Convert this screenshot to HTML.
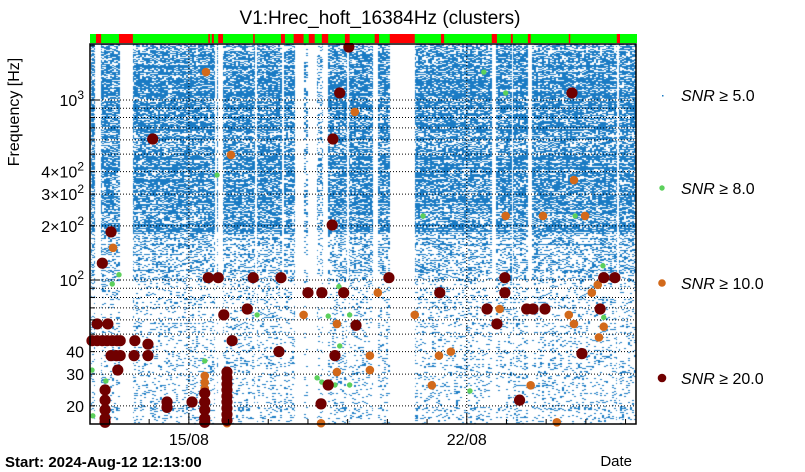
<!DOCTYPE html>
<html><head><meta charset="utf-8">
<style>
html,body{margin:0;padding:0;background:#fff;}
body{width:805px;height:472px;position:relative;overflow:hidden;font-family:"Liberation Sans",sans-serif;}
#c{position:absolute;left:0;top:0;}
svg{position:absolute;left:0;top:0;}
</style></head>
<body>
<canvas id="c" width="805" height="472"></canvas>
<svg id="s" width="805" height="472" font-family="Liberation Sans, sans-serif">
<text x="380" y="24" text-anchor="middle" font-size="19">V1:Hrec_hoft_16384Hz (clusters)</text>
<text transform="translate(19,112) rotate(-90)" text-anchor="middle" font-size="16">Frequency [Hz]</text>
<text x="5" y="467" font-size="15" font-weight="bold">Start: 2024-Aug-12 12:13:00</text>
<text x="632" y="466" text-anchor="end" font-size="15">Date</text>
<g id="grid"></g><g id="marks"></g><g id="axes"></g>
<g font-size="16">
 <rect x="662" y="95" width="1.5" height="1.5" fill="#1a7bc4"/>
 <text x="681" y="101"><tspan font-style="italic">SNR</tspan> ≥ 5.0</text>
 <circle cx="662" cy="188" r="2.7" fill="#5cd05c"/>
 <text x="681" y="194"><tspan font-style="italic">SNR</tspan> ≥ 8.0</text>
 <circle cx="662" cy="283" r="3.8" fill="#d2691a"/>
 <text x="681" y="289"><tspan font-style="italic">SNR</tspan> ≥ 10.0</text>
 <circle cx="662" cy="378" r="4.3" fill="#700000"/>
 <text x="681" y="384"><tspan font-style="italic">SNR</tspan> ≥ 20.0</text>
</g>
</svg>
<script>
// ---- data (x in days since start 2024-Aug-12 12:13, y in Hz) ----
const snr8Days=[6.27,0.73,0.56,4.21,6.0,6.54,6.29,2.89,0.05,0.40,0.07,5.72,5.84,6.17,6.54,3.2,9.92,10.47,8.39,12.22,12.92,12.94,9.57];
const snr8Hz=[92,107,95,64,63,64,43,35.5,31.6,27.5,17.6,28.6,27.1,26.1,26.1,383,1430,1094,227,227,120,62,24.2];
const snr10Days=[2.92,3.55,6.67,0.58,7.25,8.18,10.32,12.06,12.19,12.94,12.82,12.79,12.64,7.05,7.05,8.79,9.09,8.61,11.1,11.76,12.19,10.47,11.41,12.47,5.38,6.22,6.22,2.89,2.89,2.89,2.89,3.45,5.82];
const snr10Hz=[1430,495,858,151,85,64,69,64,57,55,48,94,85,38,31.6,38,40,26,26,16.2,359,227,227,227,64,57,30.8,29.3,27,25,23.8,16,16];
const snr20Days=[6.52,6.29,1.58,6.12,6.1,12.14,0.31,0.53,2.98,3.23,4.11,4.81,5.49,5.84,6.39,3.37,3.96,6.7,
0.05,0.18,0.31,0.43,0.56,0.68,0.76,0.18,0.45,0.53,0.66,0.76,0.7,1.13,1.11,1.46,1.46,3.58,4.76,6.17,6.0,5.82,
0.38,0.38,0.38,0.38,0.38,1.94,1.94,2.57,2.89,2.89,2.89,2.89,2.89,
3.45,3.45,3.45,3.45,3.45,3.45,3.45,3.45,3.45,
7.53,10.45,10.45,8.81,10.0,10.25,11.0,11.16,11.46,12.39,10.82,12.94,13.22,12.85];
const snr20Hz=[1969,1094,607,607,202,1094,124,185,103,103,103,103,85,85,85,64,69,56,
46,46,46,46,46,46,46,57,57,38,38,38,31.6,46,38,44,38,46,40,38,26.1,20.5,
24.5,21.5,19,17,16.2,21,19.6,21,23.5,21,19,17,16.2,
30.8,28.6,26.4,24.5,22.6,21,19.4,17.9,16.6,
103,103,85,85,69,57,69,69,69,39,21.5,103,103,69];
const badStart=[0.15,0.73,2.98,3.07,3.23,4.11,4.81,5.13,5.51,5.84,6.42,7.17,7.55,8.84,10.12,10.6,11.03,12.06,13.27];
const badEnd=[0.28,1.08,3.02,3.12,3.35,4.15,4.91,5.38,5.66,6.0,6.54,7.28,8.18,8.92,10.25,10.65,11.1,12.09,13.35];
const xTickDays=[2.49,9.49];
const xTickLabels=["15/08","22/08"];
const yLabelHz=[1000,400,300,200,100,40,30,20];
const yLabelText=["10^3","4×10^2","3×10^2","2×10^2","10^2","40","30","20"];
// ---- axes ----
const L=90,R=636,T=44,B=424;
const xs=d=>L+d*39.7;
const ys=f=>280-(Math.log10(f)-2)*180;
const NS="http://www.w3.org/2000/svg";
function mk(tag,attrs,parent){const e=document.createElementNS(NS,tag);for(const k in attrs)e.setAttribute(k,attrs[k]);parent.appendChild(e);return e;}
const grid=document.getElementById('grid'),marks=document.getElementById('marks'),axes=document.getElementById('axes');

// texture for SNR>=5 (dense background)
(function(){
 const cv=document.getElementById('c'),ctx=cv.getContext('2d');
 const img=ctx.createImageData(R-L,B-T);
 const gaps=[[95,101],[120,133],[215,217],[218,223],[255,257],[282,284],[295,304],[308,317],[323,328],[347,349],[373,378],[390,415],[492,496],[512,513],[528,532],[617,619]];
 function h(a,b){let n=(a*374761393+b*668265263)|0;n=(n^(n>>>13))*1274126177|0;n=n^(n>>>16);return (n>>>0)/4294967296;}
 for(let y=T;y<B;y++){
  let base=y<232?0.65:(y<282?0.32:0.12);
  const rf=h(y,7);
  let p=base*(0.65+0.7*rf);
  if(rf>0.88)p=Math.min(0.97,p*1.7);
  for(let x=L+1;x<R;x++){
   let g=false;for(const q of gaps){if(x>=q[0]&&x<q[1]){g=true;break;}}
   if(g)continue;
   let pp=p;
   if((x>=215&&x<217)||(x>=304&&x<308)||(x>=317&&x<323))pp*=0.5;
   if(h(x>>1,y*3+1)<pp){const i=((y-T)*(R-L)+(x-L))*4;img.data[i]=26;img.data[i+1]=123;img.data[i+2]=196;img.data[i+3]=255;}
  }
 }
 ctx.putImageData(img,L,T);
})();

// grid
const minor=[];for(let d=10;d<=1000;d*=10)for(let m=1;m<10;m++){const f=d*m;if(f>=20&&f<=1000)minor.push(f);}
minor.forEach(f=>{const y=ys(f);
 const l=mk('line',{x1:L,x2:R,y1:y,y2:y,stroke:'#000','stroke-width':1,'stroke-dasharray':'1,2'},grid);
 
 
});
xTickDays.forEach(d=>{const x=xs(d);
 const l=mk('line',{x1:x,x2:x,y1:T,y2:B,stroke:'#000','stroke-width':1,'stroke-dasharray':'1,2'},grid);
 
 
});
// marks
function dots(dd,hz,r,col,name){for(let i=0;i<dd.length;i++){
 const c=mk('circle',{cx:xs(dd[i]),cy:ys(hz[i]),r:r,fill:col},marks);
 
 
}}
dots(snr8Days,snr8Hz,2.7,'#5cd05c','snr8-point');
dots(snr10Days,snr10Hz,4.3,'#d2691a','snr10-point');
dots(snr20Days,snr20Hz,5.6,'#700000','snr20-point');
// quality bar
const bg=mk('rect',{x:L,y:34,width:R-L+1,height:9,fill:'#00ff00'},axes);


for(let i=0;i<badStart.length;i++){
 const r=mk('rect',{x:xs(badStart[i]),y:34,width:Math.max(1.5,xs(badEnd[i])-xs(badStart[i])),height:9,fill:'#ff0000'},axes);
 
 
}
// frame
const fr=mk('rect',{x:L,y:T,width:R-L,height:B-T,fill:'none',stroke:'#000','stroke-width':1.5},axes);


minor.concat([2000]).forEach(f=>{const y=ys(f);const big=(f===100||f===1000);
 const t=mk('line',{x1:L,x2:L+(big?10:5),y1:y,y2:y,stroke:'#000','stroke-width':1},axes);
 
 
});
yLabelHz.forEach((f,i)=>{const y=ys(f)+6;const s=yLabelText[i];
 const t=mk('text',{x:84,y:y,'text-anchor':'end','font-size':16},axes);
 
 
 if(s.includes('^')){const [b,e]=s.split('^');
  const a=document.createElementNS(NS,'tspan');a.textContent=b;t.appendChild(a);
  const sp=document.createElementNS(NS,'tspan');sp.textContent=e;sp.setAttribute('dy','-7');sp.setAttribute('font-size','12');t.appendChild(sp);
 } else t.textContent=s;
});
xTickDays.forEach((d,i)=>{const x=xs(d);
 const t=mk('line',{x1:x,x2:x,y1:B,y2:B-10,stroke:'#000','stroke-width':1},axes);
 
 
 const l=mk('text',{x:x,y:B+21,'text-anchor':'middle','font-size':16},axes);
 l.textContent=xTickLabels[i];
 
 
});
for(let d=0;d<=13;d++){if(xTickDays.some(t=>Math.abs(t-d-0.49)<0.01))continue;const x=xs(d+0.49);
 const t=mk('line',{x1:x,x2:x,y1:B,y2:B-5,stroke:'#000','stroke-width':1},axes);
 
 
}
</script>
</body></html>
